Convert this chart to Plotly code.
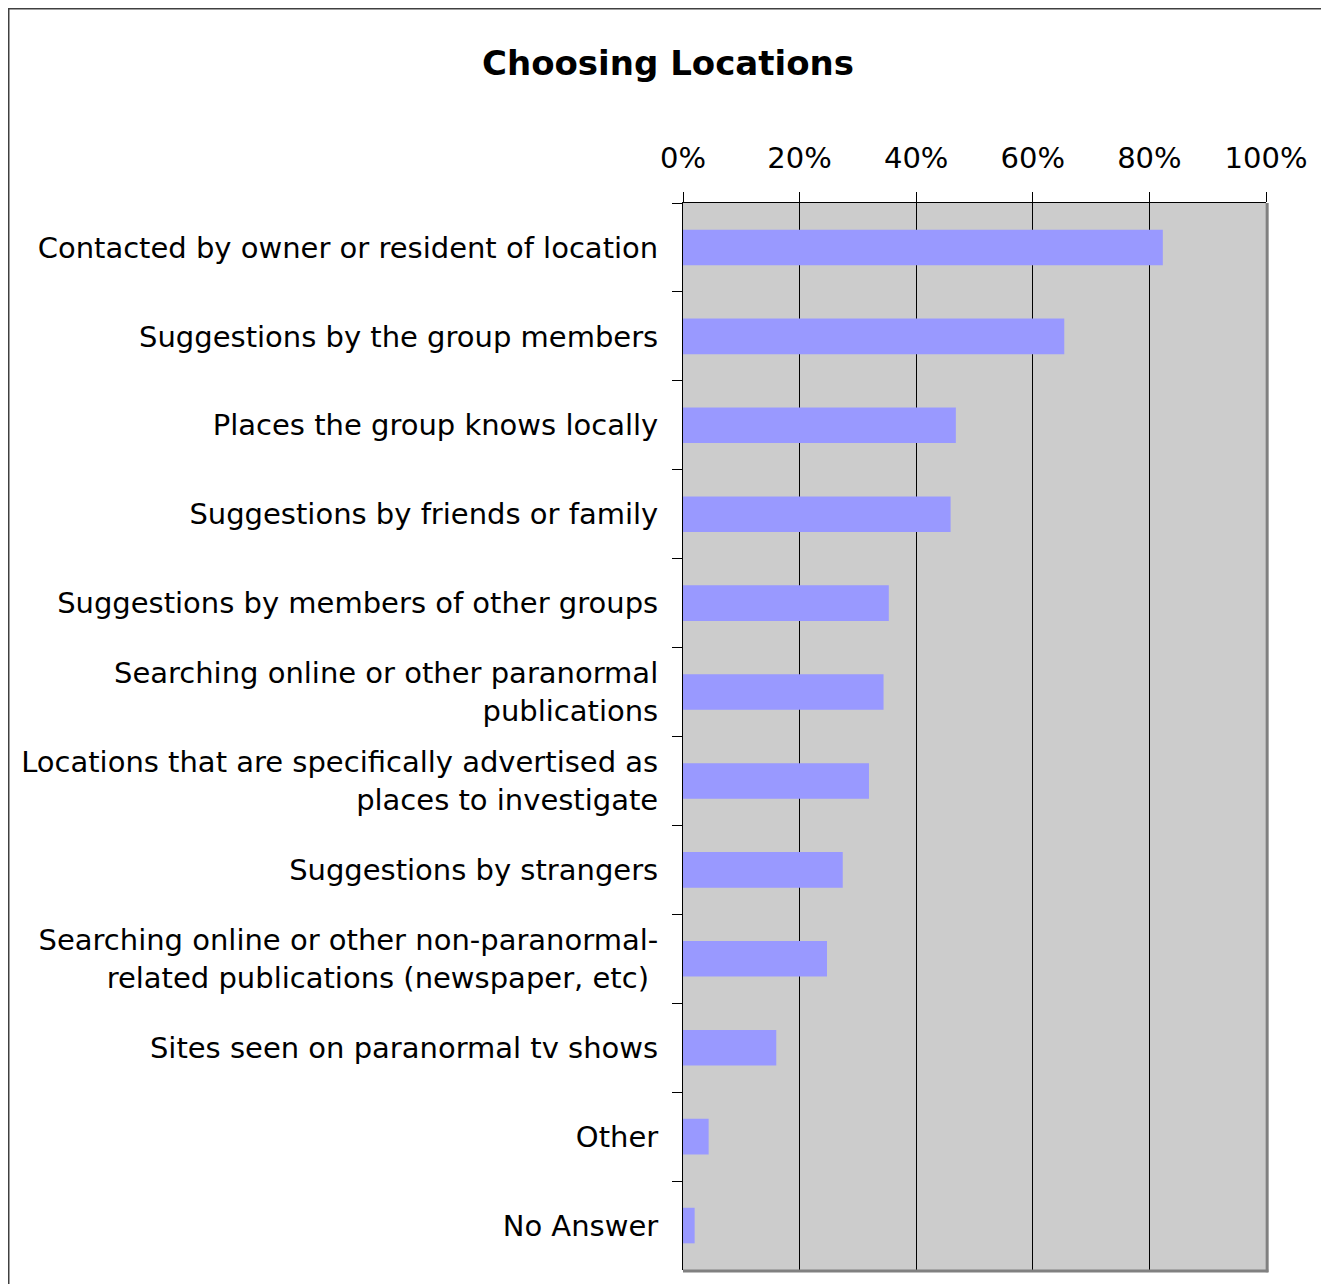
import plotly.graph_objects as go

categories = [
    "Contacted by owner or resident of location",
    "Suggestions by the group members",
    "Places the group knows locally",
    "Suggestions by friends or family",
    "Suggestions by members of other groups",
    "Searching online or other paranormal<br>publications",
    "Locations that are specifically advertised as<br>places to investigate",
    "Suggestions by strangers",
    "Searching online or other non-paranormal-<br>related publications (newspaper, etc)\u00a0",
    "Sites seen on paranormal tv shows",
    "Other",
    "No Answer",
]
values = [82.3, 65.4, 46.8, 45.9, 35.3, 34.4, 31.9, 27.4, 24.7, 16.0, 4.4, 2.0]
tick_vals = [0, 20, 40, 60, 80, 100]
tick_text = ["0%", "20%", "40%", "60%", "80%", "100%"]

FONT = "DejaVu Sans, Verdana, sans-serif"

W, H = 1329, 1284
ML, MR, MT, MB = 675, 71, 195, 22
PW = W - ML - MR
PH = H - MT - MB

fig = go.Figure(
    go.Bar(
        x=values,
        y=categories,
        orientation="h",
        width=0.4,
        marker=dict(color="#9999FF", line=dict(width=0)),
        hoverinfo="x+y",
    )
)

fig.update_layout(
    width=W,
    height=H,
    margin=dict(l=ML, r=MR, t=MT, b=MB),
    paper_bgcolor="white",
    plot_bgcolor="#CCCCCC",
    showlegend=False,
    font=dict(family=FONT, size=29, color="black"),
    title=dict(
        text="<b>Choosing Locations</b>",
        font=dict(family=FONT, size=34, color="black"),
        x=660 / W,
        xanchor="center",
        xref="container",
        y=1 - 55 / H,
        yanchor="middle",
        yref="container",
    ),
    xaxis=dict(
        side="top",
        range=[0, 100],
        tickvals=tick_vals,
        ticktext=tick_text,
        showline=True,
        linecolor="black",
        linewidth=1,
        ticks="outside",
        ticklen=10,
        tickcolor="black",
        tickwidth=1,
        showgrid=True,
        gridcolor="black",
        gridwidth=1,
        zeroline=False,
        tickfont=dict(family=FONT, size=29, color="black"),
        ticklabelstandoff=12,
        fixedrange=True,
    ),
    yaxis=dict(
        autorange="reversed",
        tickson="boundaries",
        ticks="outside",
        ticklen=10,
        tickcolor="black",
        tickwidth=1,
        showline=True,
        linecolor="black",
        linewidth=1,
        showgrid=False,
        zeroline=False,
        tickfont=dict(family=FONT, size=29, color="black"),
        ticklabelstandoff=18,
        fixedrange=True,
    ),
    shapes=[
        # plot area shadow border (bottom and right)
        dict(type="line", xref="paper", yref="paper", x0=0, x1=1.004, y0=-0.001, y1=-0.001,
             line=dict(color="#808080", width=3)),
        dict(type="line", xref="paper", yref="paper", x0=1.002, x1=1.002, y0=-0.002, y1=1,
             line=dict(color="#808080", width=3)),
        # outer chart border
        dict(type="rect", xref="paper", yref="paper",
             x0=(0.75 - ML) / PW, x1=1.3, y0=-0.1, y1=(MT + PH - 0.75) / PH,
             line=dict(color="#404040", width=1.5), fillcolor="rgba(0,0,0,0)", layer="below"),
    ],
)

fig.write_html("out.html")
